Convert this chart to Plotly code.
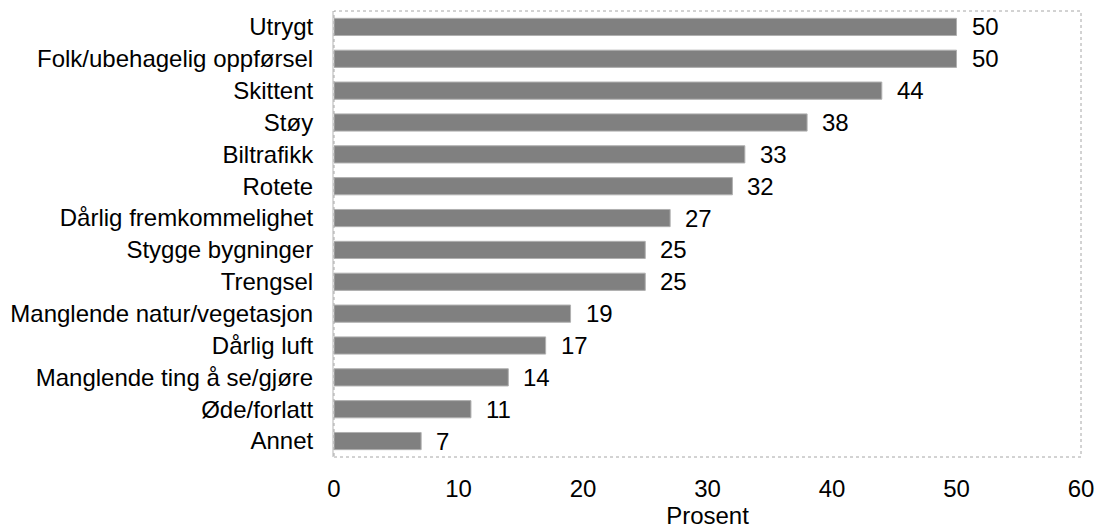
import plotly.graph_objects as go

categories = ["Utrygt", "Folk/ubehagelig oppførsel", "Skittent", "Støy", "Biltrafikk",
              "Rotete", "Dårlig fremkommelighet", "Stygge bygninger", "Trengsel",
              "Manglende natur/vegetasjon", "Dårlig luft", "Manglende ting å se/gjøre",
              "Øde/forlatt", "Annet"]
values = [50, 50, 44, 38, 33, 32, 27, 25, 25, 19, 17, 14, 11, 7]
x_ticks = [0, 10, 20, 30, 40, 50, 60]

FONT = "Liberation Sans, Arial, sans-serif"
FS = 24

fig = go.Figure()
fig.add_trace(go.Bar(
    x=values, y=categories, orientation="h",
    marker=dict(color="#808080", line=dict(color="#b0b0b0", width=1)),
    width=0.54,
    textposition="none",
    hoverinfo="skip",
))
for c, v in zip(categories, values):
    fig.add_annotation(x=v, y=c, text=str(v), showarrow=False, xanchor="left",
                       xshift=13, font=dict(family=FONT, size=FS, color="black"))

fig.add_shape(type="rect", xref="paper", yref="paper", x0=0, x1=1, y0=0, y1=1,
              line=dict(color="#a6a6a6", width=1, dash="dot"), layer="above")

fig.update_layout(
    width=1097, height=530,
    margin=dict(l=334, r=16, t=11, b=73),
    plot_bgcolor="white", paper_bgcolor="white",
    font=dict(family=FONT, size=FS, color="black"),
    showlegend=False,
    xaxis=dict(range=[0, 60], tickvals=x_ticks, showgrid=False, zeroline=False,
               showline=False, ticks="outside", ticklen=10, tickcolor="rgba(0,0,0,0)",
               automargin=False,
               title=dict(text="Prosent", standoff=0, font=dict(size=FS))),
    yaxis=dict(categoryorder="array", categoryarray=categories[::-1],
               showgrid=False, zeroline=False, showline=True, linecolor="#d9d9d9",
               linewidth=2, ticks="outside", ticklen=14, tickcolor="rgba(0,0,0,0)",
               automargin=False),
)

fig.write_html("out.html", config={"displayModeBar": False},
               post_script="document.body.style.margin='0';document.body.style.overflow='hidden';")
